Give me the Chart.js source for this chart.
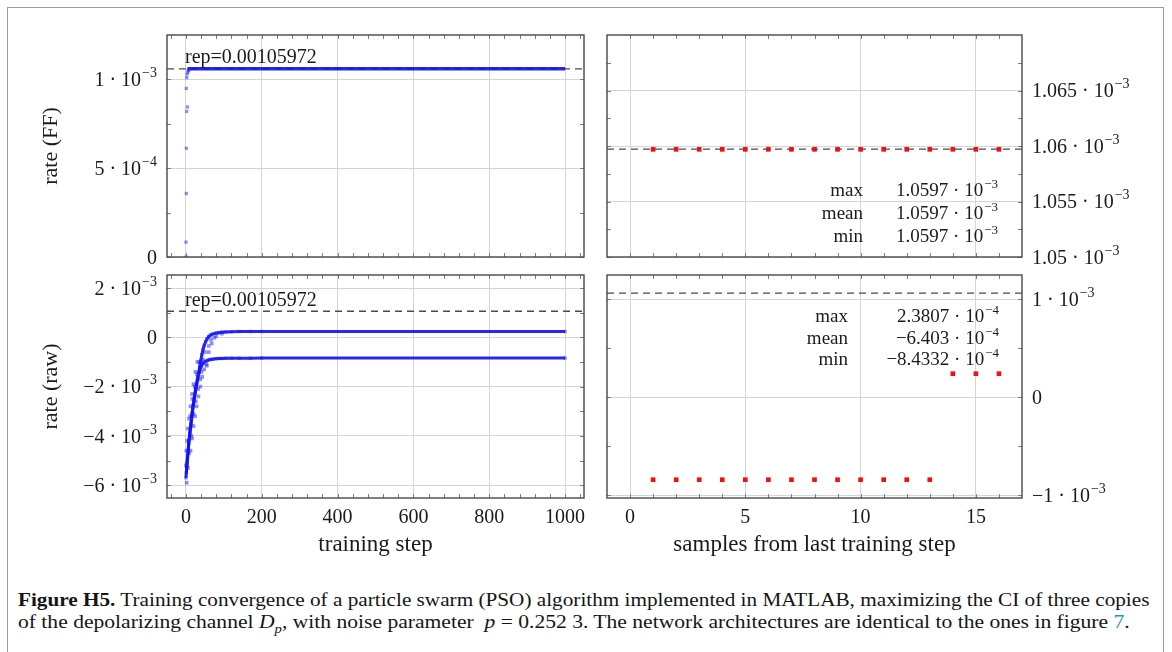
<!DOCTYPE html>
<html lang="en">
<head>
<meta charset="UTF-8">
<title>Figure H5 - PSO training convergence</title>
<script src="https://cdn.jsdelivr.net/npm/chart.js"></script>
<style>
  body {
    margin: 0;
    width: 1172px;
    height: 652px;
    overflow: hidden;
    position: relative;
    background: #fff;
    font-family: "Liberation Serif", serif;
  }
  .frame {
    position: absolute;
    left: 7px;
    top: 7px;
    width: 1157px;
    height: 700px;
    box-sizing: border-box;
    border: 1.5px solid #9c9c9c;
  }
  canvas { position: absolute; }
  .caption {
    position: absolute;
    left: 18px;
    font-size: 19px;
    line-height: 22px;
    white-space: nowrap;
    color: #151515;
    transform-origin: 0 0;
  }
  .caption sub { font-size: 13px; line-height: 0; }
</style>
</head>
<body>
<div class="frame"></div>
<canvas id="ffTrain"></canvas>
<canvas id="rawTrain"></canvas>
<canvas id="ffSamples"></canvas>
<canvas id="rawSamples"></canvas>
<div class="caption" id="cap1" style="top:589px"><b>Figure H5.</b> Training convergence of a particle swarm (PSO) algorithm implemented in MATLAB, maximizing the CI of three copies</div>
<div class="caption" id="cap2" style="top:611px">of the depolarizing channel <i>D</i><sub><i>p</i></sub>, with noise parameter&nbsp; <i>p</i> = 0.252 3. The network architectures are identical to the ones in figure <span style="color:#2b8fd0">7</span>.</div>

<script>
// ---- data ----
const repRate = 0.00105972;

// training panel, FF rate: first scattered steps, then the converged line
const ffEarlySteps = [0, 0, 1, 1, 2, 4, 1, 2, 3, 5, 6, 8];
const ffEarlyRates = [0, 8.4e-5, 3.58e-4, 6.12e-4, 8.2e-4, 8.45e-4, 9.49e-4, 1.01e-3, 1.03e-3, 1.04e-3, 1.05e-3, 1.055e-3];
const ffLineSteps = [4, 1000];
const ffLineRates = [1.0597e-3, 1.0597e-3];

// training panel, raw rate: two branches of the swarm
const rawUpperSteps = [0, 3, 6, 9, 12, 15, 18, 21, 24, 27, 30, 33, 36, 39, 42, 45, 48, 52, 56, 60, 65, 70, 78, 86, 95, 105, 120, 140, 170, 200, 1000];
const rawUpperRates = [-5.7e-3, -5.1e-3, -4.6e-3, -4.1e-3, -3.7e-3, -3.3e-3, -2.9e-3, -2.6e-3, -2.3e-3, -2.0e-3, -1.75e-3, -1.5e-3, -1.2e-3, -0.95e-3, -0.7e-3, -0.5e-3, -0.33e-3, -0.17e-3, -0.05e-3, 0.03e-3, 0.09e-3, 0.13e-3, 0.17e-3, 0.19e-3, 0.21e-3, 0.22e-3, 0.23e-3, 0.235e-3, 0.237e-3, 2.3807e-4, 2.3807e-4];
const rawLowerSteps = [1, 4, 7, 10, 13, 16, 19, 22, 25, 28, 31, 34, 37, 40, 44, 48, 53, 58, 64, 70, 78, 86, 95, 105, 120, 140, 170, 200, 1000];
const rawLowerRates = [-5.5e-3, -4.9e-3, -4.3e-3, -3.9e-3, -3.5e-3, -3.1e-3, -2.75e-3, -2.45e-3, -2.15e-3, -1.9e-3, -1.65e-3, -1.45e-3, -1.3e-3, -1.18e-3, -1.08e-3, -1.01e-3, -0.96e-3, -0.93e-3, -0.9e-3, -0.885e-3, -0.87e-3, -0.86e-3, -0.855e-3, -0.85e-3, -0.847e-3, -0.845e-3, -0.844e-3, -8.4332e-4, -8.4332e-4];
// stray particles around the rising band
const rawSwarmSteps = [2, 5, 8, 11, 14, 17, 20, 23, 26, 29, 32, 35, 38, 41, 45, 50, 55, 60, 66, 75,
                       0, 1, 3, 5, 8, 12, 16, 20, 25, 30,
                       12, 16, 20, 24, 28, 33, 38, 43, 48, 54, 60, 68, 80, 95];
const rawSwarmRates = [-5.9e-3, -5.3e-3, -4.7e-3, -3.2e-3, -4.0e-3, -2.5e-3, -3.1e-3, -2.0e-3, -2.6e-3, -1.5e-3, -2.1e-3, -1.0e-3, -1.7e-3, -1.4e-3, -0.9e-3, -0.6e-3, -1.15e-3, -0.35e-3, -0.1e-3, -0.02e-3,
                       -5.2e-3, -4.6e-3, -4.2e-3, -3.7e-3, -3.3e-3, -2.8e-3, -2.3e-3, -1.9e-3, -1.4e-3, -1.0e-3,
                       -4.6e-3, -4.1e-3, -3.6e-3, -3.2e-3, -2.8e-3, -2.4e-3, -2.0e-3, -1.6e-3, -1.3e-3, -1.1e-3, -0.6e-3, -0.25e-3, 0.05e-3, 0.15e-3];

// samples after the last training step
const sampleIdx = [1, 2, 3, 4, 5, 6, 7, 8, 9, 10, 11, 12, 13, 14, 15, 16];
const ffSampleRates = [1.0597e-3, 1.0597e-3, 1.0597e-3, 1.0597e-3, 1.0597e-3, 1.0597e-3, 1.0597e-3, 1.0597e-3,
                       1.0597e-3, 1.0597e-3, 1.0597e-3, 1.0597e-3, 1.0597e-3, 1.0597e-3, 1.0597e-3, 1.0597e-3];
const rawSampleRates = [-8.4332e-4, -8.4332e-4, -8.4332e-4, -8.4332e-4, -8.4332e-4, -8.4332e-4, -8.4332e-4, -8.4332e-4,
                        -8.4332e-4, -8.4332e-4, -8.4332e-4, -8.4332e-4, -8.4332e-4, 2.3807e-4, 2.3807e-4, 2.3807e-4];

const statNames = ['max', 'mean', 'min'];
const ffStats = [1.0597e-3, 1.0597e-3, 1.0597e-3];
const rawStats = [2.3807e-4, -6.403e-4, -8.4332e-4];

// ticks
const trainStepTicks = [0, 200, 400, 600, 800, 1000];
const trainStepMinor = [-40, 40, 80, 120, 160, 240, 280, 320, 360, 440, 480, 520, 560, 640, 680, 720, 760, 840, 880, 920, 960, 1040];
const sampleTicks = [0, 5, 10, 15];
const sampleMinor = [1, 2, 3, 4, 6, 7, 8, 9, 11, 12, 13, 14, 16];
const ffRateTicks = [0, 5e-4, 1e-3];
const ffRateMinor = [2.5e-4, 7.5e-4];
const rawRateTicks = [-6e-3, -4e-3, -2e-3, 0, 2e-3];
const rawRateMinor = [-5e-3, -3e-3, -1e-3, 1e-3];
const ffSampleTicks = [1.05e-3, 1.055e-3, 1.06e-3, 1.065e-3];
const ffSampleMinor = [1.0525e-3, 1.0575e-3, 1.0625e-3, 1.0675e-3];
const rawSampleTicks = [-1e-3, 0, 1e-3];
const rawSampleMinor = [-5e-4, 5e-4];

const FONT = '"Liberation Serif", "DejaVu Serif", serif';
const BLUE_PT = 'rgba(30,30,255,0.5)';
const BLUE_LINE = 'rgba(15,15,240,0.9)';
const RED = '#f01010';

function pts(xs, ys) { return xs.map((x, i) => ({ x: x, y: ys[i] })); }

// "5 · 10" + "-4" style labels
function sciParts(v) {
  if (v === 0) return ['0', ''];
  const e = Math.floor(Math.log10(Math.abs(v)) + 1e-9);
  const m = (Math.abs(v) / Math.pow(10, e)).toFixed(4).replace(/\.?0+$/, '');
  return [(v < 0 ? '\u2212' : '') + m + ' \u00b7 10', (e < 0 ? '\u2212' : '') + Math.abs(e)];
}

function drawSci(ctx, v, x, y, align, size) {
  const [base, sup] = sciParts(v);
  const supSize = Math.round(size * 0.7);
  ctx.font = size + 'px ' + FONT;
  const wb = ctx.measureText(base).width;
  ctx.font = supSize + 'px ' + FONT;
  const ws = sup ? ctx.measureText(sup).width + 1 : 0;
  const total = wb + ws;
  const x0 = align === 'right' ? x - total : (align === 'center' ? x - total / 2 : x);
  ctx.textAlign = 'left';
  ctx.textBaseline = 'alphabetic';
  ctx.font = size + 'px ' + FONT;
  ctx.fillText(base, x0, y + size * 0.33);
  if (sup) {
    ctx.font = supSize + 'px ' + FONT;
    ctx.fillText(sup, x0 + wb + 1, y - size * 0.12);
  }
}

function drawText(ctx, txt, x, y, align, size) {
  ctx.font = size + 'px ' + FONT;
  ctx.textAlign = align;
  ctx.textBaseline = 'alphabetic';
  ctx.fillText(txt, x, y + size * 0.33);
}

// draws frame, inward ticks, labels and notes of one panel
function makeDecor(p) {
  return {
    id: 'decor_' + p.id,
    afterDatasetsDraw(chart) {
      const ctx = chart.ctx, a = chart.chartArea;
      const sx = chart.scales.x, sy = chart.scales.y;
      const ox = p.box[0], oy = p.box[1];
      ctx.save();

      ctx.strokeStyle = '#7d7d7d';
      ctx.lineWidth = 1;
      ctx.beginPath();
      p.xMajor.concat(p.xMinor).forEach(v => {
        const px = Math.round(sx.getPixelForValue(v)) + 0.5;
        ctx.moveTo(px, a.top); ctx.lineTo(px, a.top + 4);
        ctx.moveTo(px, a.bottom); ctx.lineTo(px, a.bottom - 4);
      });
      p.yMajor.concat(p.yMinor).forEach(v => {
        const py = Math.round(sy.getPixelForValue(v)) + 0.5;
        ctx.moveTo(a.left, py); ctx.lineTo(a.left + 4, py);
        ctx.moveTo(a.right, py); ctx.lineTo(a.right - 4, py);
      });
      ctx.stroke();

      ctx.strokeStyle = '#484848';
      ctx.lineWidth = 1.4;
      ctx.strokeRect(a.left, a.top, a.right - a.left, a.bottom - a.top);

      ctx.fillStyle = '#1a1a1a';
      p.yMajor.forEach(v => {
        const py = sy.getPixelForValue(v);
        if (p.ySide === 'left') drawSci(ctx, v, a.left - 10, py, 'right', 20);
        else drawSci(ctx, v, a.right + 10, py, 'left', 20);
      });
      if (p.xTitle) {
        p.xMajor.forEach(v => drawText(ctx, String(v), sx.getPixelForValue(v), 516 - oy, 'center', 20));
        drawText(ctx, p.xTitle, (a.left + a.right) / 2, 543 - oy, 'center', 23);
      }
      if (p.yTitle) {
        ctx.save();
        ctx.translate(50 - ox, (a.top + a.bottom) / 2);
        ctx.rotate(-Math.PI / 2);
        drawText(ctx, p.yTitle, 0, 0, 'center', 22);
        ctx.restore();
      }
      if (p.repNote) {
        ctx.font = '20px ' + FONT;
        ctx.textAlign = 'left';
        ctx.fillText('rep=' + repRate, p.repNote[0] - ox, p.repNote[1] - oy);
      }
      if (p.stats) {
        const s = p.stats;
        statNames.forEach((n, i) => {
          const yy = s.rows[i] - oy;
          drawText(ctx, n, s.nameX - ox, yy, 'right', 19);
          drawSci(ctx, s.values[i], s.valueX - ox, yy, 'right', 19);
        });
      }
      ctx.restore();
    }
  };
}

function repLine(xmin, xmax) {
  return {
    data: [{ x: xmin, y: repRate }, { x: xmax, y: repRate }],
    showLine: true, borderColor: '#4a4a4a', borderWidth: 1.3, borderDash: [7, 5],
    pointRadius: 0, order: 5
  };
}

const panels = [
  {
    id: 'ffTrain', box: [0, 18, 596, 248], area: [167, 35, 584, 257],
    x: [-50, 1050], xMajor: trainStepTicks, xMinor: trainStepMinor,
    y: [0, 1.25e-3], yMajor: ffRateTicks, yMinor: ffRateMinor, ySide: 'left',
    yTitle: 'rate (FF)', repNote: [185, 63],
    datasets: [
      { data: pts(ffEarlySteps, ffEarlyRates), showLine: false, pointStyle: 'rect', pointRadius: 2.3,
        pointBackgroundColor: BLUE_PT, pointBorderWidth: 0, order: 1 },
      { data: pts(ffLineSteps, ffLineRates), showLine: true, borderColor: BLUE_LINE, borderWidth: 3.5,
        pointRadius: 0, order: 2 },
      repLine(-50, 1050)
    ]
  },
  {
    id: 'rawTrain', box: [0, 266, 596, 294], area: [167, 275, 584, 498],
    x: [-50, 1050], xMajor: trainStepTicks, xMinor: trainStepMinor,
    y: [-6.52e-3, 2.53e-3], yMajor: rawRateTicks, yMinor: rawRateMinor, ySide: 'left',
    yTitle: 'rate (raw)', xTitle: 'training step', repNote: [185, 306],
    datasets: [
      { data: pts(rawUpperSteps, rawUpperRates), showLine: true, borderColor: BLUE_LINE, borderWidth: 3,
        pointStyle: 'rect', pointRadius: 2.4, pointBackgroundColor: BLUE_PT, pointBorderWidth: 0, order: 1 },
      { data: pts(rawLowerSteps, rawLowerRates), showLine: true, borderColor: BLUE_LINE, borderWidth: 3,
        pointStyle: 'rect', pointRadius: 2.4, pointBackgroundColor: BLUE_PT, pointBorderWidth: 0, order: 2 },
      { data: pts(rawSwarmSteps, rawSwarmRates), showLine: false, pointStyle: 'rect', pointRadius: 2.6,
        pointBackgroundColor: BLUE_PT, pointBorderWidth: 0, order: 3 },
      repLine(-50, 1050)
    ]
  },
  {
    id: 'ffSamples', box: [596, 18, 576, 248], area: [607, 35, 1022, 257],
    x: [-1, 17], xMajor: sampleTicks, xMinor: sampleMinor,
    y: [1.05e-3, 1.07e-3], yMajor: ffSampleTicks, yMinor: ffSampleMinor, ySide: 'right',
    stats: { nameX: 863, valueX: 998, rows: [190, 213, 236], values: ffStats },
    datasets: [
      { data: pts(sampleIdx, ffSampleRates), showLine: false, pointStyle: 'rect', pointRadius: 3.3,
        pointBackgroundColor: RED, pointBorderWidth: 0, order: 1 },
      repLine(-1, 17)
    ]
  },
  {
    id: 'rawSamples', box: [596, 266, 576, 294], area: [607, 275, 1022, 498],
    x: [-1, 17], xMajor: sampleTicks, xMinor: sampleMinor,
    y: [-1.03e-3, 1.245e-3], yMajor: rawSampleTicks, yMinor: rawSampleMinor, ySide: 'right',
    xTitle: 'samples from last training step',
    stats: { nameX: 848, valueX: 999, rows: [316, 338, 359], values: rawStats },
    datasets: [
      { data: pts(sampleIdx, rawSampleRates), showLine: false, pointStyle: 'rect', pointRadius: 3.3,
        pointBackgroundColor: RED, pointBorderWidth: 0, order: 1 },
      repLine(-1, 17)
    ]
  }
];

panels.forEach(p => {
  const cv = document.getElementById(p.id);
  const [bx, by, bw, bh] = p.box;
  const [l, t, r, b] = p.area;
  cv.width = bw; cv.height = bh;
  cv.style.left = bx + 'px'; cv.style.top = by + 'px';
  const leftAxis = p.ySide === 'left';

  new Chart(cv.getContext('2d'), {
    type: 'scatter',
    data: { datasets: p.datasets.map(d => Object.assign({ tension: 0, borderColor: BLUE_LINE }, d)) },
    options: {
      responsive: false,
      animation: false,
      devicePixelRatio: 1,
      events: [],
      layout: {
        autoPadding: false,
        padding: {
          left: leftAxis ? 0 : l - bx,
          right: leftAxis ? bx + bw - r : 0,
          top: t - by,
          bottom: 0
        }
      },
      plugins: { legend: { display: false }, tooltip: { enabled: false } },
      scales: {
        x: {
          type: 'linear', min: p.x[0], max: p.x[1],
          afterBuildTicks: s => { s.ticks = p.xMajor.map(v => ({ value: v })); },
          afterFit: s => { s.height = by + bh - b; },
          ticks: { display: false },
          grid: { color: '#d5d5d5', lineWidth: 1, drawTicks: false },
          border: { display: false }
        },
        y: {
          type: 'linear', position: p.ySide, min: p.y[0], max: p.y[1],
          afterBuildTicks: s => { s.ticks = p.yMajor.map(v => ({ value: v })); },
          afterFit: s => { s.width = leftAxis ? l - bx : bx + bw - r; },
          ticks: { display: false },
          grid: { color: '#d5d5d5', lineWidth: 1, drawTicks: false },
          border: { display: false }
        }
      }
    },
    plugins: [makeDecor(p)]
  });
});

// stretch caption lines to the width they have in the figure
[['cap1', 1132], ['cap2', 1112]].forEach(([id, w]) => {
  const el = document.getElementById(id);
  el.style.transform = 'scaleX(' + (w / el.offsetWidth) + ')';
});
</script>
</body>
</html>
